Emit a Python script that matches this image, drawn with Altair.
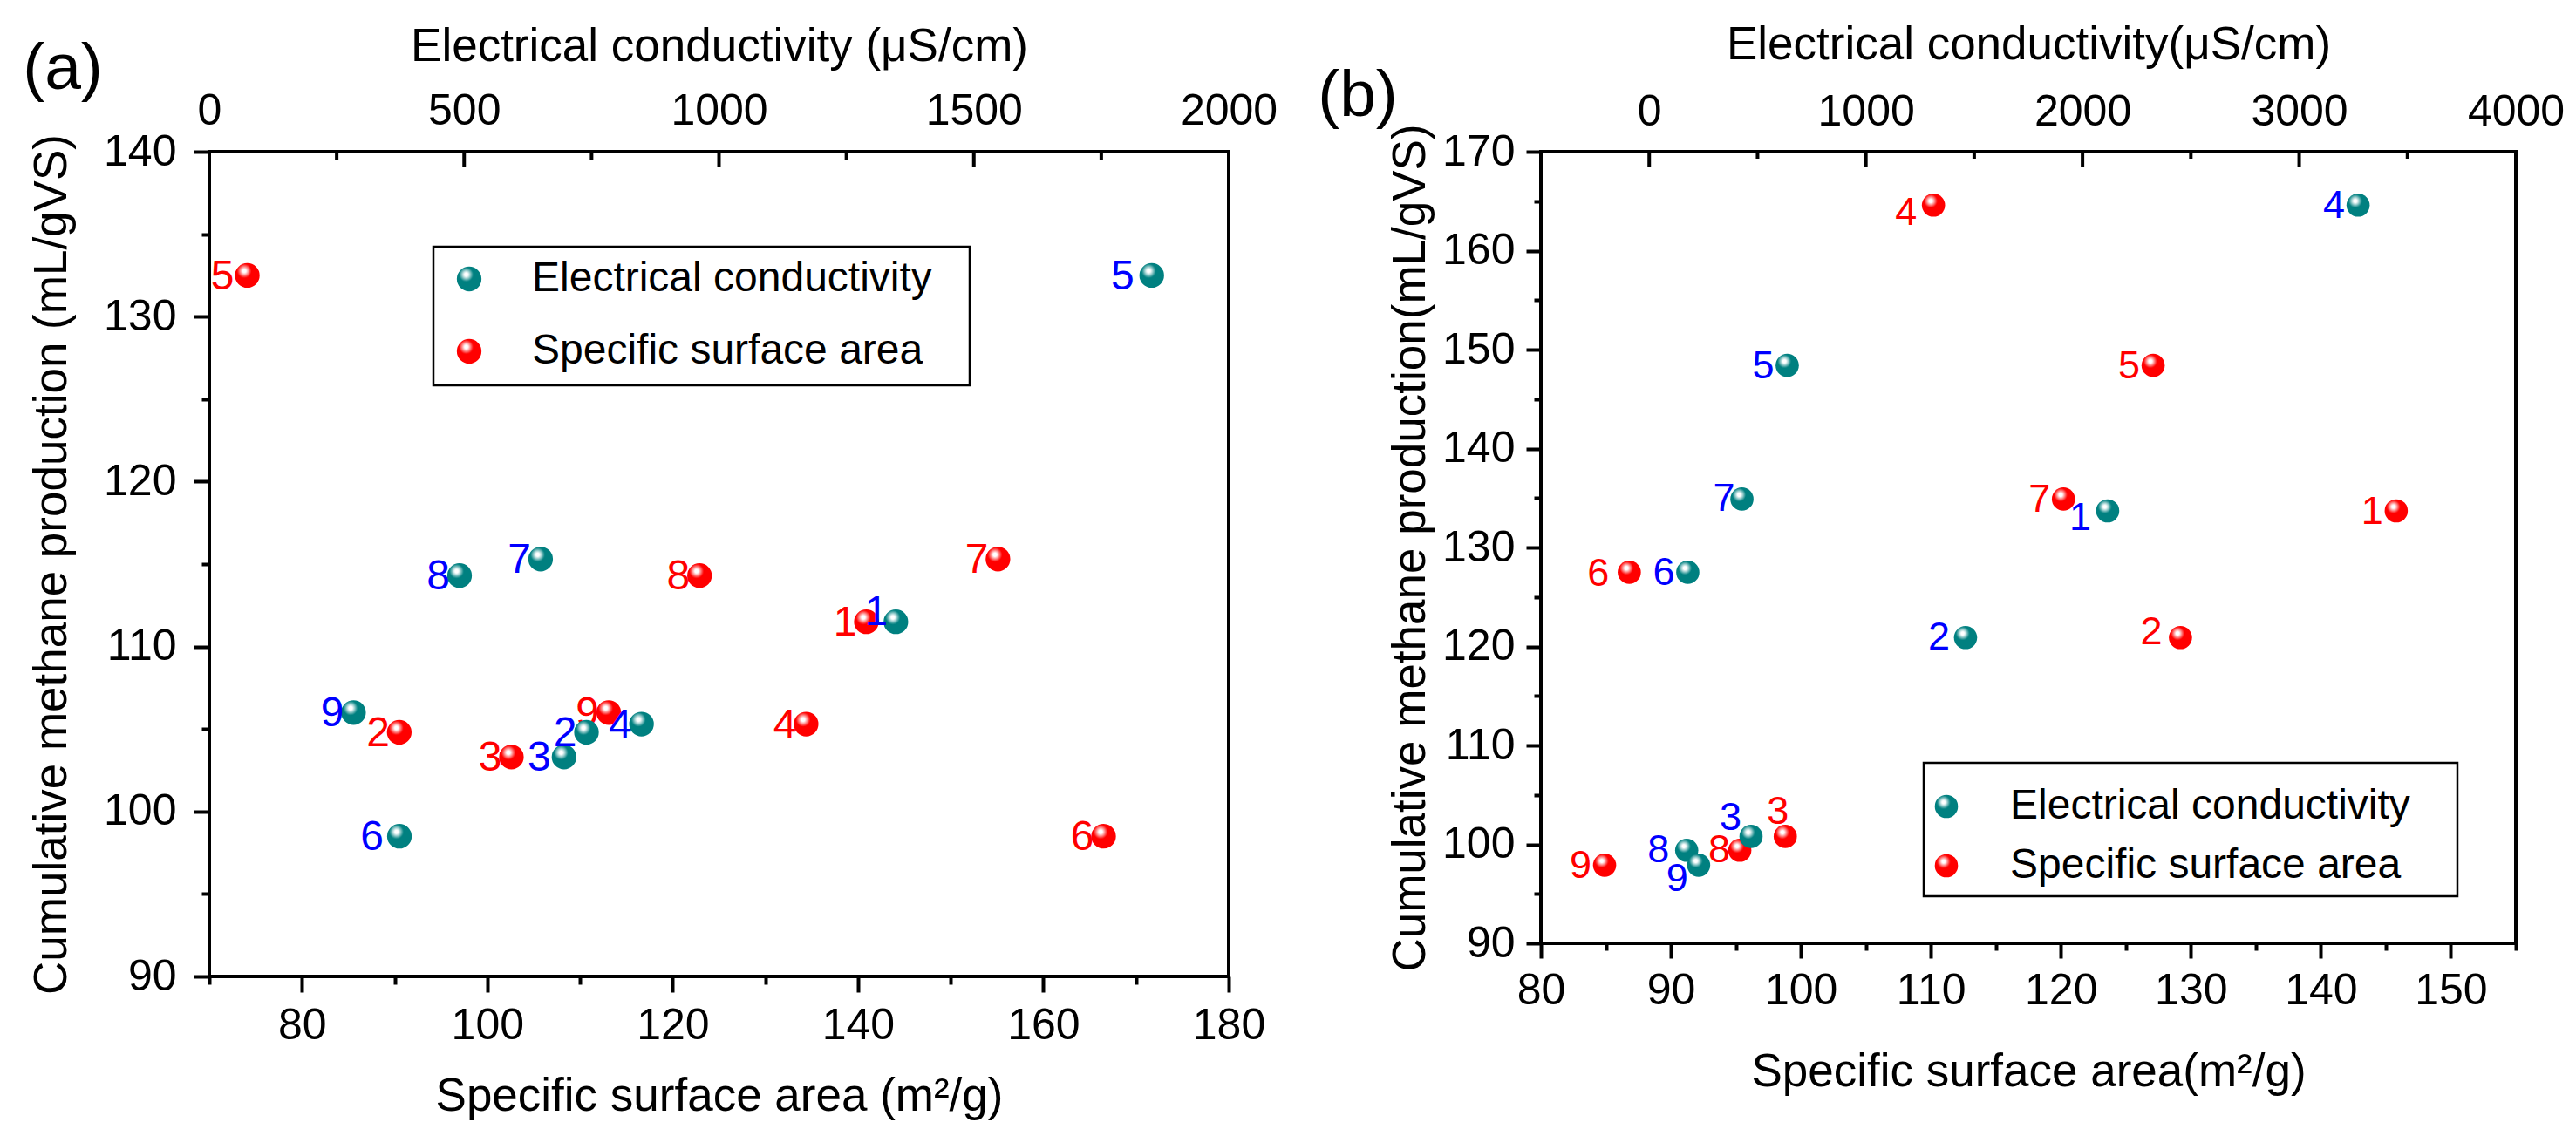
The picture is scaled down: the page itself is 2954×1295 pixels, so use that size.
import altair as alt
import pandas as pd

# ---------------- data ----------------
samples = [1, 2, 3, 4, 5, 6, 7, 8, 9]

# panel (a)
a_ssa = [140.9, 90.5, 102.6, 134.4, 74.1, 166.5, 155.1, 122.9, 113.1]   # m2/g
a_ec = [1347, 740, 696, 848, 1849, 373, 650, 491, 283]                  # uS/cm
a_cmp = [111.5, 104.8, 103.3, 105.3, 132.5, 98.5, 115.3, 114.3, 106.0]  # mL/gVS

# panel (b)
b_ssa = [145.8, 129.2, 98.8, 110.2, 127.1, 86.8, 120.2, 95.3, 84.9]
b_ec = [2116, 1460, 470, 3272, 637, 178, 428, 173, 228]
b_cmp = [133.7, 120.9, 100.8, 164.6, 148.4, 127.5, 134.9, 99.4, 97.9]

# axis ticks
a_x_ticks = list(range(70, 181, 10))
a_x_labels_step = 20
a_y_ticks = list(range(90, 141, 5))
a_top_major = [0, 500, 1000, 1500, 2000]
a_top_minor = [250, 750, 1250, 1750]

b_x_ticks = list(range(80, 156, 5))
b_x_labels_step = 10
b_y_ticks = list(range(90, 171, 5))
b_top_major = [0, 1000, 2000, 3000, 4000]
b_top_minor = [500, 1500, 2500, 3500]

FONT = "Liberation Sans"
TEAL = "#008080"
RED = "#ff0000"


def sphere(base, light):
    return {
        "gradient": "radial",
        "x1": 0.38, "y1": 0.32, "r1": 0,
        "x2": 0.38, "y2": 0.32, "r2": 0.72,
        "stops": [
            {"offset": 0.0, "color": "#ffffff"},
            {"offset": 0.10, "color": "#ffffff"},
            {"offset": 0.22, "color": light},
            {"offset": 0.40, "color": base},
            {"offset": 1.0, "color": base},
        ],
    }


RED_SPH = sphere(RED, "#ff9a9a")
TEAL_SPH = sphere(TEAL, "#9fd0d0")


def tick_cond(step, big, small):
    return {"condition": {"test": f"datum.value % {step} === 0", "value": big}, "value": small}


def build_panel(ssa, ec, cmp_, cfg):
    df = pd.DataFrame({"sample": samples, "ssa": ssa, "ec": ec, "cmp": cmp_})

    yenc = alt.Y(
        "cmp:Q",
        scale=alt.Scale(domain=cfg["ydom"], nice=False, zero=False),
        axis=alt.Axis(
            values=cfg["yticks"], tickSize=tick_cond(10, cfg["tick"], cfg["tick"] // 2),
            labelExpr="datum.value % 10 === 0 ? datum.label : ''",
            tickWidth=4, tickColor="black", domain=False, grid=False,
            labelFontSize=50, labelFont=FONT, labelColor="black", labelPadding=cfg["ylabpad"],
            labelOverlap=False, labelFlush=False,
            title=cfg["ytitle"], titleFont=FONT, titleFontSize=53, titleFontWeight="normal",
            titleColor="black", titlePadding=cfg["ytitpad"],
        ),
    )
    xb = alt.X(
        "ssa:Q",
        scale=alt.Scale(domain=cfg["xdom"], nice=False, zero=False),
        axis=alt.Axis(
            values=cfg["xticks"], tickSize=tick_cond(cfg["xstep"], cfg["tick"], cfg["tick"] // 2),
            labelExpr=f"datum.value % {cfg['xstep']} === 0 ? datum.label : ''",
            tickWidth=4, tickColor="black", domain=False, grid=False,
            labelFontSize=50, labelFont=FONT, labelColor="black", labelPadding=cfg["xlabpad"],
            labelOverlap=False, labelFlush=False,
            title=cfg["xtitle"], titleFont=FONT, titleFontSize=53, titleFontWeight="normal",
            titleColor="black", titlePadding=cfg["xtitpad"],
        ),
    )
    xt = alt.X(
        "ec:Q",
        scale=alt.Scale(domain=cfg["tdom"], nice=False, zero=False),
        axis=alt.Axis(
            orient="top", values=cfg["tmajor"], ticks=False, tickSize=0, domain=False, grid=False,
            format="d", labelFontSize=50, labelFont=FONT, labelColor="black",
            labelPadding=cfg["tlabpad"], labelOverlap=False, labelFlush=False,
            title=cfg["ttitle"], titleFont=FONT, titleFontSize=53, titleFontWeight="normal",
            titleColor="black", titlePadding=cfg["ttitpad"],
        ),
    )

    size = cfg["size"]

    def label_layers(xenc, color, offs, default):
        groups = {}
        for s in samples:
            groups.setdefault(offs.get(s, default), []).append(s)
        layers = []
        for (dx, dy), members in groups.items():
            layers.append(
                alt.Chart(df)
                .transform_filter(alt.FieldOneOfPredicate(field="sample", oneOf=members))
                .mark_text(align="right", baseline="middle", dx=dx, dy=dy,
                           font=FONT, fontSize=cfg["lblsize"], color=color)
                .encode(x=xenc, y=yenc, text="sample:N")
            )
        return layers

    red_pts = alt.Chart(df).mark_circle(size=size, opacity=1, color=RED_SPH).encode(x=xb, y=yenc)
    teal_pts = alt.Chart(df).mark_circle(size=size, opacity=1, color=TEAL_SPH).encode(x=xt, y=yenc)

    tmaj = alt.Chart(pd.DataFrame({"ec": cfg["tmajor"]})).mark_rule(
        color="black", strokeWidth=4).encode(x=xt, y=alt.value(0), y2=alt.value(cfg["tick"]))
    tmin = alt.Chart(pd.DataFrame({"ec": cfg["tminor"]})).mark_rule(
        color="black", strokeWidth=4).encode(x=xt, y=alt.value(0), y2=alt.value(cfg["tick"] // 2))

    red_group = alt.layer(red_pts, *label_layers(xb, RED, cfg["red_offs"], cfg["def_off"]))
    teal_group = alt.layer(tmaj, tmin, teal_pts,
                           *label_layers(xt, "#0000ff", cfg["teal_offs"], cfg["def_off"]))

    one = pd.DataFrame({"k": [0]})
    lg = cfg["legend"]
    box = alt.Chart(one).mark_rect(fillOpacity=0, stroke="black", strokeWidth=2.5).encode(
        x=alt.value(lg["x1"]), x2=alt.value(lg["x2"]), y=alt.value(lg["y1"]), y2=alt.value(lg["y2"]))
    lt = alt.Chart(one).mark_circle(size=size, opacity=1, color=TEAL_SPH).encode(
        x=alt.value(lg["sx"]), y=alt.value(lg["sy1"]))
    lr = alt.Chart(one).mark_circle(size=size, opacity=1, color=RED_SPH).encode(
        x=alt.value(lg["sx"]), y=alt.value(lg["sy2"]))
    ltt = alt.Chart(one).mark_text(align="left", baseline="middle", font=FONT, fontSize=48,
                                   color="black", text="Electrical conductivity").encode(
        x=alt.value(lg["tx"]), y=alt.value(lg["sy1"]))
    lrt = alt.Chart(one).mark_text(align="left", baseline="middle", font=FONT, fontSize=48,
                                   color="black", text="Specific surface area").encode(
        x=alt.value(lg["tx"]), y=alt.value(lg["sy2"]))
    letter = alt.Chart(one).mark_text(align="center", baseline="middle", font=FONT, fontSize=75,
                                      color="black", text=cfg["letter"]).encode(
        x=alt.value(cfg["letter_xy"][0]), y=alt.value(cfg["letter_xy"][1]))

    return (
        alt.layer(red_group, teal_group, box, lt, lr, ltt, lrt, letter)
        .resolve_scale(x="independent")
        .properties(width=cfg["w"], height=cfg["h"])
    )


cfg_a = dict(
    w=1169, h=946, xdom=[70, 180], ydom=[90, 140], tdom=[0, 2000],
    xticks=a_x_ticks, xstep=a_x_labels_step, yticks=a_y_ticks,
    tmajor=a_top_major, tminor=a_top_minor, tick=18,
    xtitle="Specific surface area (m²/g)", ytitle="Cumulative methane production (mL/gVS)",
    ttitle="Electrical conductivity (μS/cm)",
    xlabpad=13, xtitpad=30, ylabpad=20, ytitpad=32, tlabpad=22, ttitpad=22,
    size=800, lblsize=48, def_off=(-11, 2),
    red_offs={5: (-15, 2)},
    teal_offs={1: (-9, -10), 5: (-20, 2), 6: (-18, 2), 3: (-15, 2)},
    legend=dict(x1=257, x2=872, y1=109, y2=268, sx=298, sy1=146, sy2=229, tx=370),
    letter="(a)", letter_xy=(-168, -95),
)

cfg_b = dict(
    w=1118, h=908, xdom=[80, 155], ydom=[90, 170], tdom=[-500, 4000],
    xticks=b_x_ticks, xstep=b_x_labels_step, yticks=b_y_ticks,
    tmajor=b_top_major, tminor=b_top_minor, tick=17,
    xtitle="Specific surface area(m²/g)", ytitle="Cumulative methane production(mL/gVS)",
    ttitle="Electrical conductivity(μS/cm)",
    xlabpad=12, xtitpad=42, ylabpad=13, ytitpad=9, tlabpad=21, ttitpad=25,
    size=707, lblsize=45, def_off=(-15, 1),
    red_offs={4: (-19, 9), 3: (4, -28), 8: (-11, 0), 6: (-23, 2), 2: (-21, -6)},
    teal_offs={1: (-19, 8), 3: (-11, -21), 9: (-12, 16), 8: (-20, 0), 7: (-8, 0), 2: (-18, 0)},
    legend=dict(x1=439, x2=1051, y1=701, y2=854, sx=465, sy1=751, sy2=819, tx=538),
    letter="(b)", letter_xy=(-210, -64),
)

panel_a = build_panel(a_ssa, a_ec, a_cmp, cfg_a)
panel_b = build_panel(b_ssa, b_ec, b_cmp, cfg_b)

chart = (
    alt.hconcat(panel_a, panel_b, spacing=358, bounds="flush")
    .properties(padding={"left": 16, "top": 15, "right": 0, "bottom": 0}, background="white")
    .configure_view(stroke="black", strokeWidth=4)
)

chart.save("out.html", embed_options={"renderer": "svg", "actions": False})
